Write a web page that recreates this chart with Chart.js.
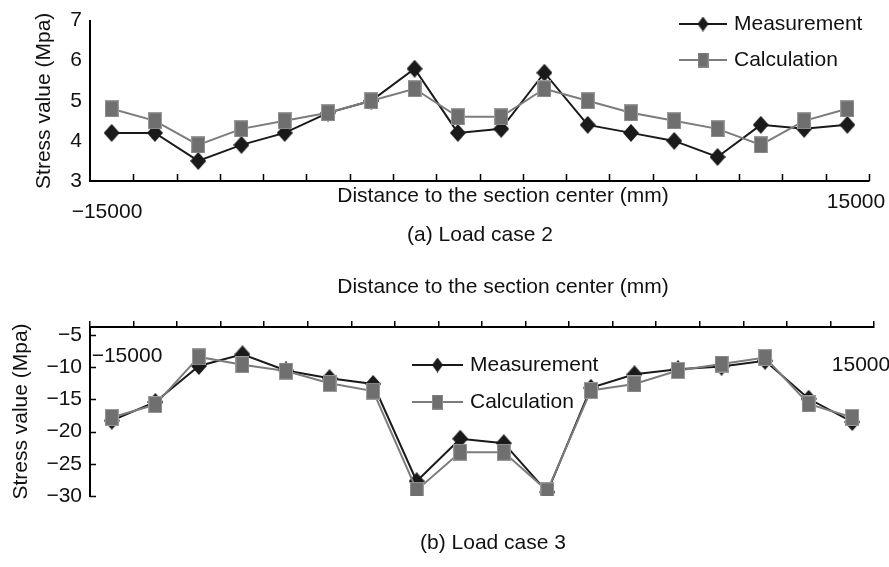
<!DOCTYPE html>
<html>
<head>
<meta charset="utf-8">
<script src="https://cdn.jsdelivr.net/npm/chart.js@4.4.1/dist/chart.umd.min.js"></script>
<style>
  html, body { margin: 0; padding: 0; background: #fff; }
  #wrap { position: relative; width: 889px; height: 567px; }
  .box { position: absolute; left: 0; width: 889px; }
  #boxA { top: 0; height: 255px; }
  #boxB { top: 255px; height: 312px; }
</style>
</head>
<body>
<div id="wrap">
  <div class="box" id="boxA"><canvas id="chartA"></canvas></div>
  <div class="box" id="boxB"><canvas id="chartB"></canvas></div>
</div>
<script>
// =========================================
// DATA
// =========================================

// 18 gauge positions from -15000 to 15000 mm
const positions = ['P1', 'P2', 'P3', 'P4', 'P5', 'P6', 'P7', 'P8', 'P9',
                   'P10', 'P11', 'P12', 'P13', 'P14', 'P15', 'P16', 'P17', 'P18'];

// (a) Load case 2
const measCase2 = [4.2, 4.2, 3.5, 3.9, 4.2, 4.7, 5.0, 5.8, 4.2, 4.3, 5.7, 4.4, 4.2, 4.0, 3.6, 4.4, 4.3, 4.4];
const calcCase2 = [4.8, 4.5, 3.9, 4.3, 4.5, 4.7, 5.0, 5.3, 4.6, 4.6, 5.3, 5.0, 4.7, 4.5, 4.3, 3.9, 4.5, 4.8];

// (b) Load case 3
const measCase3 = [-18.3, -15.4, -9.8, -8.0, -10.5, -11.7, -12.6, -27.7, -21.1, -21.8, -29.4, -13.2, -11.1, -10.3, -9.9, -9.0, -14.9, -18.5];
const calcCase3 = [-17.8, -15.8, -8.4, -9.6, -10.6, -12.5, -13.7, -29.1, -23.2, -23.2, -29.2, -13.6, -12.6, -10.5, -9.5, -8.5, -15.7, -17.8];

const xEndLabels = ['\u221215000', '15000'];
const axisTitleX = 'Distance to the section center (mm)';
const axisTitleY = 'Stress value (Mpa)';

// =========================================
// STYLE HELPERS
// =========================================

const FONT = '"Liberation Sans", Arial, sans-serif';
const INK = '#111111';
const BLACK = '#1a1a1a';
const GREY_LINE = '#7c7c7c';
const GREY_FILL = '#6f6f6f';

function makeDiamond(w, h, fill) {
    const c = document.createElement('canvas');
    c.width = w; c.height = h;
    const g = c.getContext('2d');
    g.fillStyle = fill;
    g.beginPath();
    g.moveTo(w / 2, 0);
    g.lineTo(w, h / 2);
    g.lineTo(w / 2, h);
    g.lineTo(0, h / 2);
    g.closePath();
    g.fill();
    return c;
}

function makeSquare(w, h, fill, edge) {
    const c = document.createElement('canvas');
    c.width = w; c.height = h;
    const g = c.getContext('2d');
    g.fillStyle = edge;
    g.fillRect(0, 0, w, h);
    g.fillStyle = fill;
    g.fillRect(1, 1, w - 2, h - 2);
    return c;
}

const diamondBig = makeDiamond(16, 18, BLACK);
const squareBig = makeSquare(14, 17, GREY_FILL, '#9a9a9a');
const diamondSmall = makeDiamond(11, 15, BLACK);
const squareSmall = makeSquare(11, 15, GREY_FILL, '#8a8a8a');

function minusSign(v) {
    return String(v).replace('-', '\u2212');
}

// =========================================
// PLUGINS
// =========================================

// loose text items (axis title, end labels, caption)
const freeText = {
    id: 'freeText',
    afterDraw(chart, args, opts) {
        const ctx = chart.ctx;
        ctx.save();
        ctx.fillStyle = INK;
        ctx.font = '21px ' + FONT;
        ctx.textBaseline = 'middle';
        opts.items.forEach(t => {
            ctx.textAlign = t.align || 'center';
            ctx.fillText(t.text, t.x, t.y);
        });
        ctx.restore();
    }
};

// legend with line + marker sample
const lineLegend = {
    id: 'lineLegend',
    afterDraw(chart, args, opts) {
        const ctx = chart.ctx;
        ctx.save();
        ctx.font = '21px ' + FONT;
        ctx.textBaseline = 'middle';
        ctx.textAlign = 'left';
        chart.data.datasets.forEach((ds, i) => {
            const y = opts.y[i];
            ctx.strokeStyle = ds.borderColor;
            ctx.lineWidth = ds.borderWidth;
            ctx.beginPath();
            ctx.moveTo(opts.x, y);
            ctx.lineTo(opts.x + opts.len, y);
            ctx.stroke();
            const m = ds.legendMarker;
            ctx.drawImage(m, opts.x + opts.len / 2 - m.width / 2, y - m.height / 2);
            ctx.fillStyle = INK;
            ctx.fillText(ds.label, opts.x + opts.len + 7, y);
        });
        ctx.restore();
    }
};

// short ticks pointing into the plot area
const innerTicks = {
    id: 'innerTicks',
    afterDraw(chart, args, opts) {
        const ctx = chart.ctx;
        ctx.save();
        ctx.strokeStyle = '#000';
        ctx.lineWidth = 1.5;
        ctx.beginPath();
        if (opts.x) {
            const xs = chart.scales.x;
            for (let i = 1; i <= positions.length; i++) {
                const px = Math.round(xs.getPixelForValue(i - 0.5)) + 0.5;
                ctx.moveTo(px, xs.top);
                ctx.lineTo(px, xs.top - 7);
            }
        }
        if (opts.y) {
            const ys = chart.scales.y;
            ys.ticks.forEach(t => {
                const py = Math.round(ys.getPixelForValue(t.value)) + 0.5;
                ctx.moveTo(ys.right, py);
                ctx.lineTo(ys.right + 6, py);
            });
        }
        ctx.stroke();
        ctx.restore();
    }
};

// =========================================
// CHART BUILDER
// =========================================

function buildChart(canvasId, meas, calc, cfg) {
    const ctx = document.getElementById(canvasId).getContext('2d');
    return new Chart(ctx, {
        type: 'line',
        data: {
            labels: positions,
            datasets: [
                {
                    label: 'Measurement',
                    data: meas,
                    borderColor: BLACK,
                    borderWidth: 2,
                    tension: 0,
                    pointStyle: diamondBig,
                    pointRadius: 8,
                    order: 1,
                    legendMarker: diamondSmall
                },
                {
                    label: 'Calculation',
                    data: calc,
                    borderColor: GREY_LINE,
                    borderWidth: 2,
                    tension: 0,
                    pointStyle: squareBig,
                    pointRadius: 8,
                    order: 0,
                    legendMarker: squareSmall
                }
            ]
        },
        options: {
            responsive: true,
            maintainAspectRatio: false,
            animation: false,
            layout: { padding: cfg.padding },
            plugins: {
                legend: { display: false },
                tooltip: { enabled: false },
                freeText: { items: cfg.texts },
                lineLegend: cfg.legend,
                innerTicks: cfg.innerTicks
            },
            scales: {
                x: {
                    type: 'category',
                    position: cfg.xPos,
                    offset: true,
                    ticks: { display: false },
                    grid: {
                        display: !cfg.innerTicks.x,
                        drawOnChartArea: false,
                        offset: true,
                        tickLength: 6,
                        color: '#000',
                        lineWidth: 1.5
                    },
                    border: { display: true, color: '#000', width: 2 },
                    afterFit(scale) { scale.height = cfg.xHeight; }
                },
                y: {
                    min: cfg.yMin,
                    max: cfg.yMax,
                    ticks: {
                        stepSize: cfg.yStep,
                        includeBounds: false,
                        padding: 8,
                        color: INK,
                        font: { family: FONT, size: 21 },
                        callback: v => minusSign(v)
                    },
                    grid: { display: false, drawTicks: false },
                    border: { display: true, color: '#000', width: 2 },
                    title: {
                        display: true,
                        text: axisTitleY,
                        color: INK,
                        font: { family: FONT, size: 21 },
                        padding: { top: cfg.yTitlePad, bottom: 0 }
                    },
                    afterFit(scale) { scale.width = 90; }
                }
            }
        },
        plugins: [freeText, lineLegend, innerTicks]
    });
}

// (a) Load case 2
buildChart('chartA', measCase2, calcCase2, {
    padding: { left: 0, right: 20, top: 16, bottom: 0 },
    xPos: 'bottom',
    xHeight: 74,
    innerTicks: { x: true, y: false },
    yMin: 3, yMax: 7, yStep: 1,
    yTitlePad: 32,
    legend: { x: 679, len: 48, y: [24, 60] },
    texts: [
        { text: axisTitleX, x: 503, y: 196 },
        { text: xEndLabels[0], x: 107, y: 212 },
        { text: xEndLabels[1], x: 856, y: 202 },
        { text: '(a) Load case 2', x: 480, y: 235 }
    ]
});

// (b) Load case 3
buildChart('chartB', measCase3, calcCase3, {
    padding: { left: 0, right: 15, top: 0, bottom: 71 },
    xPos: 'top',
    xHeight: 72,
    innerTicks: { x: false, y: true },
    yMin: -30, yMax: -3.75, yStep: 5,
    yTitlePad: 9,
    legend: { x: 412, len: 51, y: [110, 147] },
    texts: [
        { text: axisTitleX, x: 503, y: 32 },
        { text: xEndLabels[0], x: 127, y: 101 },
        { text: xEndLabels[1], x: 861, y: 110 },
        { text: '(b) Load case 3', x: 493, y: 288 }
    ]
});
</script>
</body>
</html>
